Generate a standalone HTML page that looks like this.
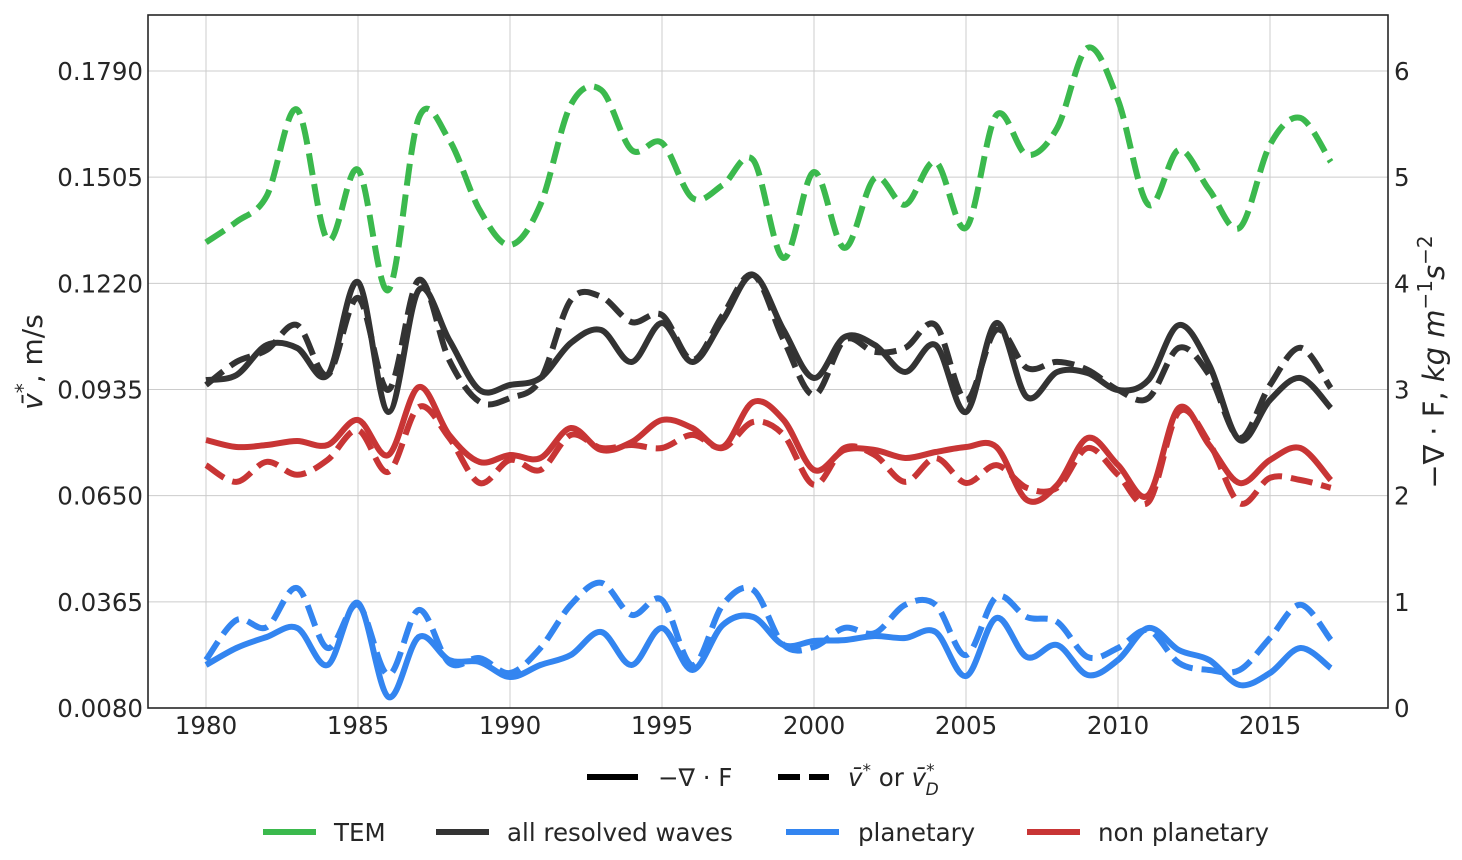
<!DOCTYPE html>
<html><head><meta charset="utf-8"><style>
html,body{margin:0;padding:0;background:#fff;}
svg{display:block;font-family:"DejaVu Sans","Liberation Sans",sans-serif;}
</style></head><body>
<svg id="chart" width="1462" height="860" viewBox="0 0 1462 860">
<rect x="0" y="0" width="1462" height="860" fill="#fff"/>
<g id="grid"></g>
<g id="series"></g>
<rect x="148" y="15" width="1240" height="693" fill="none" stroke="#262626" stroke-width="1.6"/>
<g id="ticks" font-size="24.5" fill="#262626"></g>
<text transform="translate(42,362) rotate(-90)" text-anchor="middle" font-size="28" fill="#262626"><tspan font-style="italic">v̄</tspan><tspan dy="-12" font-size="20">*</tspan><tspan dy="12">, m/s</tspan></text>
<text transform="translate(1444,362) rotate(-90)" text-anchor="middle" font-size="29" fill="#262626">−∇ · F, <tspan font-style="italic">kg m</tspan><tspan dy="-12" font-size="20">−1</tspan><tspan dy="12" font-style="italic">s</tspan><tspan dy="-12" font-size="20">−2</tspan></text>
<g>
<line x1="587" y1="777" x2="638" y2="777" stroke="#000" stroke-width="6"/>
<text x="658" y="786" font-size="24.5" fill="#262626">−∇ · F</text>
<line x1="778" y1="777" x2="829" y2="777" stroke="#000" stroke-width="6" stroke-dasharray="22,9"/>
<text x="848" y="786" font-size="24.5" fill="#262626"><tspan font-style="italic">v̄</tspan><tspan dy="-10" font-size="17">*</tspan><tspan dy="10"> or </tspan><tspan font-style="italic">v̄</tspan><tspan dy="-10" font-size="17">*</tspan><tspan dx="-9" dy="19" font-size="17" font-style="italic">D</tspan></text>
</g>
<g font-size="24.5" fill="#262626">
<line x1="263" y1="832" x2="316" y2="832" stroke="#3bb94d" stroke-width="6"/>
<text x="334" y="841">TEM</text>
<line x1="436" y1="832" x2="489" y2="832" stroke="#333333" stroke-width="6"/>
<text x="507" y="841">all resolved waves</text>
<line x1="786" y1="832" x2="839" y2="832" stroke="#3385f0" stroke-width="6"/>
<text x="858" y="841">planetary</text>
<line x1="1027" y1="832" x2="1080" y2="832" stroke="#c83535" stroke-width="6"/>
<text x="1098" y="841">non planetary</text>
</g>
</svg>
<script>
const years = [];
for (let y = 1980; y <= 2017; y++) years.push(y);
const xTicks = [1980,1985,1990,1995,2000,2005,2010,2015];
const leftTicks = ["0.0080","0.0365","0.0650","0.0935","0.1220","0.1505","0.1790"];
const rightTicks = [0,1,2,3,4,5,6];

// dashed series (m/s, left axis)
const temV = [0.1330,0.1385,0.1455,0.1686,0.1337,0.1525,0.1202,0.1664,0.1605,0.1417,0.1323,0.1431,0.1699,0.1739,0.1578,0.1597,0.1449,0.1484,0.1551,0.1288,0.1519,0.1315,0.1503,0.1431,0.1546,0.1369,0.1672,0.1565,0.1637,0.1852,0.1712,0.1431,0.1578,0.1471,0.1369,0.1592,0.1664,0.1546];
const allV = [0.0947,0.1009,0.1041,0.1108,0.0974,0.1181,0.0934,0.1229,0.1014,0.0902,0.0912,0.0961,0.1175,0.1184,0.1116,0.1135,0.1014,0.1135,0.1243,0.1068,0.0920,0.1068,0.1036,0.1047,0.1108,0.0907,0.1095,0.0993,0.1009,0.0988,0.0934,0.0912,0.1047,0.0974,0.0805,0.0947,0.1047,0.0939];
const nonPlanV = [0.0732,0.0687,0.0741,0.0706,0.0746,0.0826,0.0714,0.0888,0.0805,0.0684,0.0746,0.0719,0.0813,0.0778,0.0786,0.0778,0.0813,0.0778,0.0848,0.0813,0.0679,0.0778,0.0759,0.0687,0.0751,0.0684,0.0732,0.0671,0.0671,0.0778,0.0706,0.0633,0.0875,0.0792,0.0630,0.0698,0.0692,0.0671];
const planV = [0.0209,0.0316,0.0297,0.0402,0.0241,0.0357,0.0169,0.0343,0.0201,0.0214,0.0174,0.0241,0.0357,0.0416,0.0330,0.0370,0.0195,0.0357,0.0397,0.0249,0.0244,0.0295,0.0281,0.0357,0.0357,0.0222,0.0378,0.0324,0.0311,0.0217,0.0241,0.0289,0.0201,0.0182,0.0182,0.0268,0.0357,0.0263];

// solid series (-div F, right axis)
const allF = [3.089,3.136,3.419,3.391,3.136,4.012,2.788,3.937,3.466,2.995,3.042,3.108,3.438,3.560,3.259,3.626,3.259,3.654,4.078,3.560,3.108,3.494,3.419,3.165,3.419,2.788,3.626,2.929,3.165,3.155,2.995,3.089,3.607,3.231,2.524,2.901,3.108,2.826];
const nonPlanF = [2.524,2.458,2.477,2.515,2.477,2.713,2.383,3.023,2.571,2.317,2.383,2.355,2.637,2.430,2.505,2.713,2.637,2.458,2.882,2.713,2.242,2.430,2.430,2.355,2.411,2.458,2.458,1.959,2.100,2.543,2.289,2.006,2.826,2.477,2.119,2.336,2.449,2.147];
const planF = [0.405,0.565,0.669,0.754,0.405,0.989,0.104,0.669,0.452,0.433,0.292,0.405,0.499,0.716,0.405,0.754,0.358,0.782,0.857,0.593,0.631,0.640,0.678,0.659,0.716,0.301,0.848,0.480,0.593,0.311,0.452,0.754,0.546,0.452,0.217,0.330,0.565,0.377];

const X0 = 206, XPY = (1270 - 206) / 35;
function xS(yr){ return X0 + (yr - 1980) * XPY; }
function yL(v){ return 708 - (v - 0.008) / 0.171 * 637; }
function yR(v){ return 708 - v / 6 * 637; }

const NS = "http://www.w3.org/2000/svg";
const grid = document.getElementById('grid');
const ticks = document.getElementById('ticks');
const series = document.getElementById('series');

xTicks.forEach(t => {
  const l = document.createElementNS(NS,'line');
  l.setAttribute('x1', xS(t)); l.setAttribute('x2', xS(t));
  l.setAttribute('y1', 15); l.setAttribute('y2', 708);
  l.setAttribute('stroke','#cccccc'); l.setAttribute('stroke-width','1');
  
  
  grid.appendChild(l);
  const tx = document.createElementNS(NS,'text');
  tx.setAttribute('x', xS(t)); tx.setAttribute('y', 734);
  tx.setAttribute('text-anchor','middle');
  tx.textContent = t;
  
  
  ticks.appendChild(tx);
});
leftTicks.forEach(t => {
  const y = yL(parseFloat(t));
  const l = document.createElementNS(NS,'line');
  l.setAttribute('x1', 148); l.setAttribute('x2', 1388);
  l.setAttribute('y1', y); l.setAttribute('y2', y);
  l.setAttribute('stroke','#cccccc'); l.setAttribute('stroke-width','1');
  
  
  grid.appendChild(l);
  const tx = document.createElementNS(NS,'text');
  tx.setAttribute('x', 143); tx.setAttribute('y', y + 9);
  tx.setAttribute('text-anchor','end');
  tx.textContent = t;
  
  
  ticks.appendChild(tx);
});
rightTicks.forEach(t => {
  const tx = document.createElementNS(NS,'text');
  tx.setAttribute('x', 1394); tx.setAttribute('y', yR(t) + 9);
  tx.textContent = t;
  
  
  ticks.appendChild(tx);
});

function smoothPath(pts){
  let d = 'M' + pts[0][0].toFixed(1) + ',' + pts[0][1].toFixed(1);
  for (let i = 0; i < pts.length - 1; i++){
    const p0 = pts[Math.max(0,i-1)], p1 = pts[i], p2 = pts[i+1], p3 = pts[Math.min(pts.length-1,i+2)];
    const c1x = p1[0] + (p2[0]-p0[0])/6, c1y = p1[1] + (p2[1]-p0[1])/6;
    const c2x = p2[0] - (p3[0]-p1[0])/6, c2y = p2[1] - (p3[1]-p1[1])/6;
    d += 'C' + c1x.toFixed(1)+','+c1y.toFixed(1)+' '+c2x.toFixed(1)+','+c2y.toFixed(1)+' '+p2[0].toFixed(1)+','+p2[1].toFixed(1);
  }
  return d;
}
function draw(vals, scale, color, dashed, name){
  const pts = vals.map((v,i) => [xS(years[i]), scale(v)]);
  const p = document.createElementNS(NS,'path');
  p.setAttribute('d', smoothPath(pts));
  p.setAttribute('fill','none');
  p.setAttribute('stroke', color);
  p.setAttribute('stroke-width','6');
  p.setAttribute('stroke-linejoin','round');
  if (dashed) p.setAttribute('stroke-dasharray','22,9');
  
  
  series.appendChild(p);
}
draw(temV, yL, '#3bb94d', true, 'tem-vstar-line');
draw(allF, yR, '#333333', false, 'all-waves-divf-line');
draw(allV, yL, '#333333', true, 'all-waves-vstar-line');
draw(planF, yR, '#3385f0', false, 'planetary-divf-line');
draw(planV, yL, '#3385f0', true, 'planetary-vstar-line');
draw(nonPlanF, yR, '#c83535', false, 'non-planetary-divf-line');
draw(nonPlanV, yL, '#c83535', true, 'non-planetary-vstar-line');
</script>
</body></html>
